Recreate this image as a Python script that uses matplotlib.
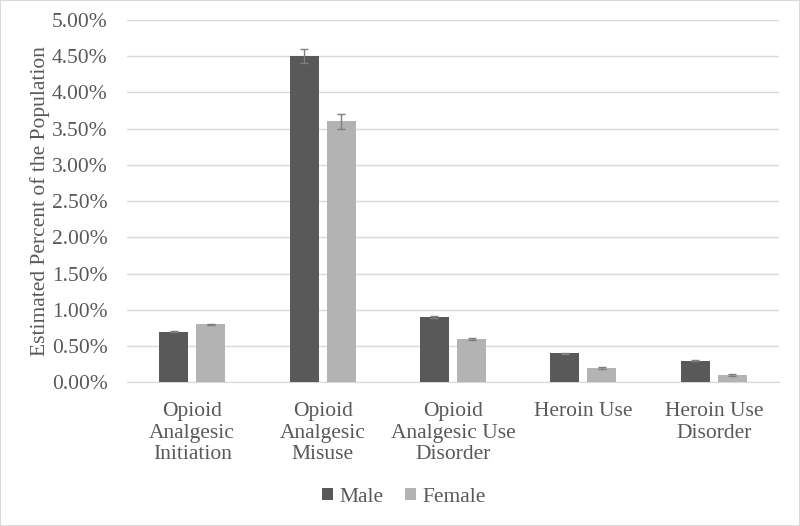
import numpy as np
import matplotlib.pyplot as plt
from matplotlib.ticker import FuncFormatter

categorias = ["Opioid\nAnalgesic\nInitiation", "Opioid\nAnalgesic\nMisuse",
              "Opioid\nAnalgesic Use\nDisorder", "Heroin Use", "Heroin Use\nDisorder"]
male = [0.70, 4.50, 0.90, 0.40, 0.30]
female = [0.80, 3.60, 0.60, 0.20, 0.10]
male_err = [0.01, 0.10, 0.01, 0.01, 0.01]
female_err = [0.01, 0.10, 0.01, 0.01, 0.01]

plt.rcParams['font.family'] = ['Liberation Serif', 'DejaVu Serif']
texto = '#595959'
tam = 15.5

fig = plt.figure(figsize=(8, 5.26), dpi=100)
fig.patch.set_edgecolor('#d9d9d9')
fig.patch.set_linewidth(1.2)
ax = fig.add_axes([0.15875, 0.273, 0.815, 0.689])

x = np.arange(len(categorias))
ancho = 0.222
desp = 0.142
kw_err = dict(ecolor='#7f7f7f', elinewidth=1, capsize=3, capthick=1)
ax.bar(x - desp, male, ancho, color='#595959', yerr=male_err, error_kw=kw_err,
       label='Male', zorder=3)
ax.bar(x + desp, female, ancho, color='#b3b3b3', yerr=female_err, error_kw=kw_err,
       label='Female', zorder=3)

ax.set_xlim(-0.5, len(categorias) - 0.5)
ax.set_ylim(0, 5.0)
ax.set_yticks(np.arange(0, 5.01, 0.5))
ax.yaxis.set_major_formatter(FuncFormatter(lambda v, p: f'{v:.2f}%'))
ax.set_xticks(x)
ax.set_xticklabels(categorias, linespacing=1.2, va='top')

ax.grid(axis='y', color='#d9d9d9', linewidth=1, zorder=0)
for s in ['top', 'right', 'left']:
    ax.spines[s].set_visible(False)
ax.spines['bottom'].set_color('#d9d9d9')
ax.tick_params(axis='both', length=0, labelsize=tam, colors=texto)
ax.tick_params(axis='x', pad=14)
ax.tick_params(axis='y', pad=14)

ax.set_ylabel('Estimated Percent of the Population', fontsize=tam, color=texto)
ax.yaxis.set_label_coords(-0.118, 0.5)

fig.legend(loc='lower center', bbox_to_anchor=(0.505, 0.0), ncol=2, frameon=False,
           fontsize=tam, labelcolor=texto, handlelength=0.5, handleheight=0.5,
           handletextpad=0.3, columnspacing=1.0)

plt.savefig('out.png', dpi=100, edgecolor=fig.get_edgecolor())
plt.close()
